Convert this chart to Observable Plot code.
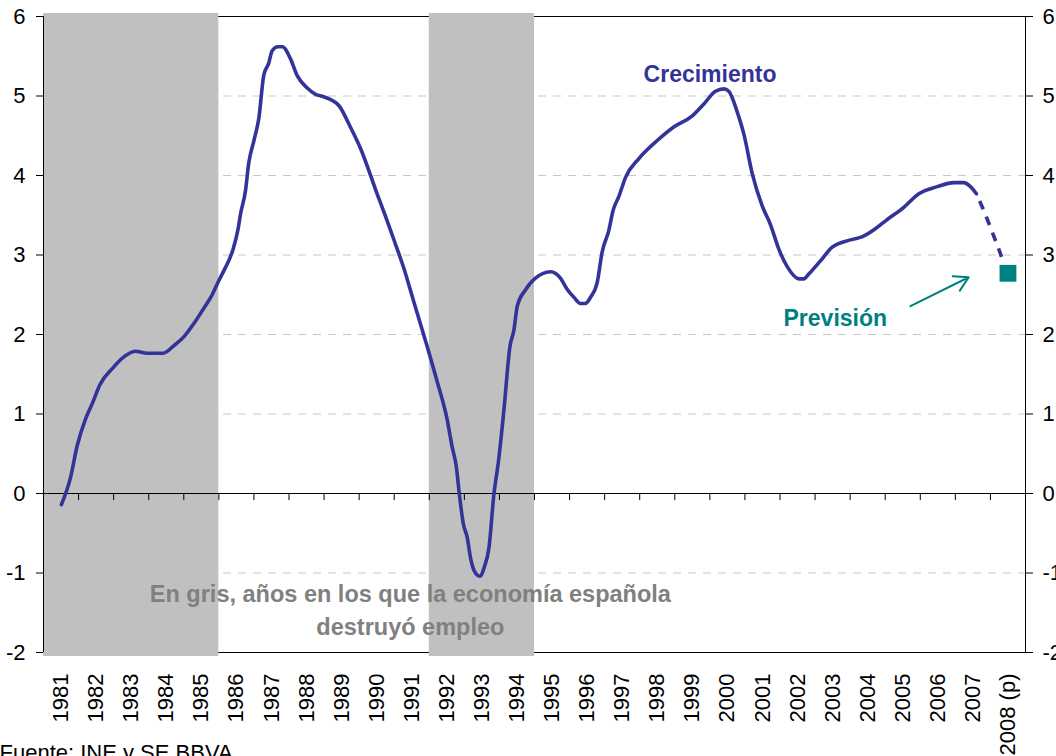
<!DOCTYPE html>
<html>
<head>
<meta charset="utf-8">
<script src="https://cdn.jsdelivr.net/npm/d3@7"></script>
<script src="https://cdn.jsdelivr.net/npm/@observablehq/plot@0.6"></script>
<style>
  body { margin: 0; background: #fff; }
  #chart svg { display: block; }
</style>
</head>
<body>
<div id="chart"></div>
<script>
// ---- data ----
const firstYear = 1981;
const yearLabels = ["1981","1982","1983","1984","1985","1986","1987","1988","1989","1990",
  "1991","1992","1993","1994","1995","1996","1997","1998","1999","2000",
  "2001","2002","2003","2004","2005","2006","2007","2008 (p)"];
const yTicks = [-2, -1, 0, 1, 2, 3, 4, 5, 6];
const gridValues = [-1, 1, 2, 3, 4, 5];
const recessionStart = [1981, 1992];
const recessionEnd = [1986, 1995];

// growth series (time in years, value in %)
const growthTime = [1981.51,1981.77,1981.96,1982.20,1982.39,1982.61,1982.96,1983.24,1983.62,1983.96,
  1984.41,1984.72,1985.00,1985.29,1985.57,1985.81,1986.00,1986.14,1986.41,1986.54,
  1986.62,1986.76,1986.85,1987.00,1987.14,1987.28,1987.42,1987.52,1987.68,1987.81,
  1988.04,1988.23,1988.52,1988.76,1988.99,1989.42,1989.75,1990.04,1990.52,1990.75,
  1991.04,1991.27,1991.56,1991.94,1992.23,1992.51,1992.65,1992.77,1992.86,1992.97,
  1993.08,1993.18,1993.29,1993.44,1993.58,1993.70,1993.84,1993.98,1994.13,1994.30,
  1994.41,1994.51,1994.74,1995.00,1995.46,1995.74,1995.93,1996.12,1996.31,1996.45,
  1996.60,1996.79,1996.93,1997.12,1997.24,1997.40,1997.60,1997.97,1998.50,1998.97,
  1999.50,1999.83,2000.16,2000.40,2000.54,2000.78,2000.97,2001.21,2001.49,2001.73,
  2001.97,2002.21,2002.54,2002.68,2002.82,2003.16,2003.49,2004.01,2004.35,2004.72,
  2005.01,2005.53,2005.96,2006.48,2006.96,2007.24,2007.43,2007.60];
const growthValue = [-0.14,0.20,0.60,0.94,1.13,1.37,1.57,1.70,1.79,1.765,
  1.765,1.86,1.97,2.14,2.33,2.50,2.68,2.80,3.08,3.31,
  3.52,3.81,4.15,4.44,4.72,5.26,5.41,5.57,5.62,5.62,
  5.47,5.26,5.10,5.02,4.99,4.88,4.61,4.34,3.76,3.49,
  3.13,2.84,2.41,1.85,1.40,0.93,0.59,0.34,-0.02,-0.38,
  -0.55,-0.82,-0.98,-1.04,-0.91,-0.69,-0.02,0.43,1.06,1.85,
  2.05,2.36,2.56,2.70,2.79,2.71,2.57,2.47,2.39,2.39,
  2.47,2.66,3.04,3.31,3.56,3.73,3.98,4.21,4.44,4.61,
  4.75,4.90,5.06,5.09,5.06,4.80,4.52,4.02,3.62,3.38,
  3.07,2.85,2.70,2.70,2.76,2.93,3.10,3.19,3.23,3.33,
  3.43,3.60,3.77,3.86,3.91,3.91,3.86,3.77];

// forecast (dashed) part and forecast point
const forecastTime = [2007.60, 2007.81, 2008.05, 2008.29, 2008.35];
const forecastValue = [3.77, 3.56, 3.29, 3.01, 2.93];
const forecastPointTime = [2008.5];
const forecastPointValue = [2.77];

// ---- tables for the library ----
const n = Math.min(growthTime.length, growthValue.length);
const growth = d3.range(n).map(i => ({t: growthTime[i], v: growthValue[i]}));
const forecast = forecastTime.map((t, i) => ({t, v: forecastValue[i]}));
const forecastPoint = forecastPointTime.map((t, i) => ({t, v: forecastPointValue[i]}));
const bands = recessionStart.map((s, i) => ({start: s, end: recessionEnd[i]}));
const lastYear = firstYear + yearLabels.length;
const boundaries = d3.range(firstYear, lastYear + 1);
const centers = yearLabels.map((_, i) => firstYear + i + 0.5);

const blue = "#333399";
const teal = "#008080";
const grayText = "#808080";
const font = "'Liberation Sans', Arial, sans-serif";

const chart = Plot.plot({
  width: 1056,
  height: 756,
  marginLeft: 43,
  marginRight: 31,
  marginTop: 16,
  marginBottom: 104,
  style: {fontFamily: font, fontSize: "22px", color: "#000", background: "#fff", overflow: "visible"},
  x: {domain: [firstYear, lastYear]},
  y: {domain: [-2, 6]},
  marks: [
    Plot.ruleY(gridValues, {stroke: "#c8c8c8", strokeWidth: 1, strokeDasharray: "8,7"}),
    Plot.frame({stroke: "#000", strokeWidth: 1}),
    Plot.rect(bands, {x1: "start", x2: "end", fill: "#c0c0c0", insetTop: -3, insetBottom: -4}),
    Plot.ruleX([firstYear, lastYear], {stroke: "#000", strokeWidth: 1}),
    Plot.ruleY([0], {stroke: "#000", strokeWidth: 1}),
    Plot.ruleX(boundaries, {x: d => d, y1: d => 0, y2: d => -0.09, stroke: "#000", strokeWidth: 1}),
    Plot.axisY({anchor: "left", ticks: yTicks, tickSize: 7, tickPadding: 11, tickFormat: d => String(d), fontSize: 22, label: null}),
    Plot.axisY({anchor: "right", ticks: yTicks, tickSize: 7, tickPadding: 10, tickFormat: d => String(d), fontSize: 22, label: null}),
    Plot.axisX({ticks: centers, tickFormat: d => yearLabels[Math.round(d - 0.5) - firstYear], tickRotate: -90, tickSize: 0, tickPadding: 21, fontSize: 22, label: null}),
    Plot.line(growth, {x: "t", y: "v", stroke: blue, strokeWidth: 3.6, curve: "monotone-x"}),
    Plot.line(forecast, {x: "t", y: "v", stroke: blue, strokeWidth: 3.6, strokeDasharray: "0,8,9,0", strokeLinecap: "butt", curve: "monotone-x"}),
    Plot.dot(forecastPoint, {x: "t", y: "v", symbol: "square", fill: teal, r: 9.5}),
    Plot.arrow([{x1: 2005.72, y1: 2.356, x2: 2007.38, y2: 2.72}], {x1: "x1", y1: "y1", x2: "x2", y2: "y2", stroke: teal, strokeWidth: 2, headLength: 12}),
    Plot.text(["Crecimiento"], {x: 1998.11, y: 5.18, text: d => d, textAnchor: "start", lineAnchor: "bottom", fill: blue, fontWeight: "bold", fontSize: 23}),
    Plot.text(["Previsión"], {x: 2002.10, y: 2.11, text: d => d, textAnchor: "start", lineAnchor: "bottom", fill: teal, fontWeight: "bold", fontSize: 23}),
    Plot.text(["En gris, años en los que la economía española"], {x: 1991.46, y: -1.371, text: d => d, textAnchor: "middle", lineAnchor: "bottom", fill: grayText, fontWeight: "bold", fontSize: 23.5}),
    Plot.text(["destruyó empleo"], {x: 1991.46, y: -1.774, text: d => d, textAnchor: "middle", lineAnchor: "bottom", fill: grayText, fontWeight: "bold", fontSize: 23.5}),
    Plot.text(["Fuente: INE y SE BBVA"], {frameAnchor: "bottom-left", dx: -44, dy: 107, text: d => d, textAnchor: "start", lineAnchor: "bottom", fill: "#000", fontSize: 22})
  ]
});
document.getElementById("chart").appendChild(chart);
</script>
</body>
</html>
